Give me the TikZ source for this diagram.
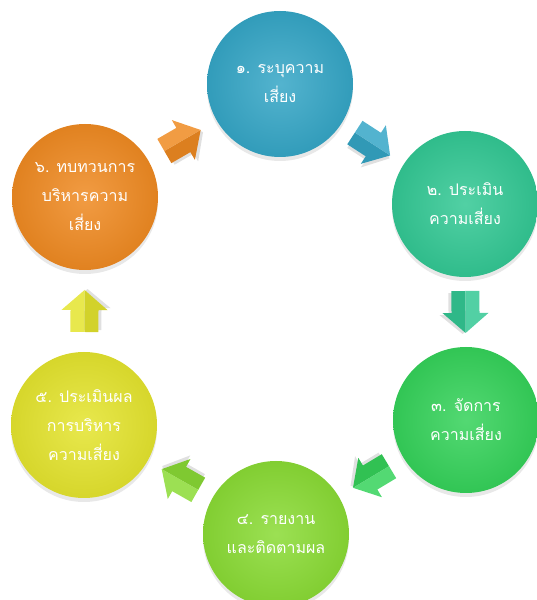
\documentclass[tikz,border=0pt]{standalone}
\usepackage{fontspec}
\newfontfamily\thaifont[Script=Thai]{Loma}
\usetikzlibrary{calc,shadows}
\definecolor{cA}{HTML}{35A6C6}
\definecolor{cB}{HTML}{33C894}
\definecolor{cC}{HTML}{35D25A}
\definecolor{cD}{HTML}{8ADB35}
\definecolor{cE}{HTML}{E4E42E}
\definecolor{cF}{HTML}{EF8A22}
\tikzset{
  stage/.style={circle, minimum size=146pt, inner sep=0pt, shade,
    inner color=#1!85!white, outer color=#1!94!black, text=white, align=center,
    font=\thaifont\fontsize{16}{29}\selectfont,
    drop shadow={shadow xshift=0pt, shadow yshift=-4pt, opacity=0.18}},
  barrow/.pic={
    \fill[black, opacity=0.12] (-19,11) -- (3,11) -- (3,20) -- (22,-3) -- (3,-26) -- (3,-17) -- (-19,-17) -- cycle;
    \fill[#1!92!black] (-21,-14) -- (1,-14) -- (1,-23) -- (21,0) -- (-21,0) -- cycle;
    \fill[#1!85!white] (-21,14) -- (1,14) -- (1,23) -- (21,0) -- (-21,0) -- cycle;
  }
}
\begin{document}
\begin{tikzpicture}[x=1pt,y=1pt]
\useasboundingbox (0,0) rectangle (536,600);
\node[stage=cA] (c1) at (280,516) {๑. ระบุความ\\เสี่ยง};
\node[stage=cB] (c2) at (465,396) {๒. ประเมิน\\ความเสี่ยง};
\node[stage=cC] (c3) at (466,180) {๓. จัดการ\\ความเสี่ยง};
\node[stage=cD] (c4) at (276,66) {๔. รายงาน\\และติดตามผล};
\node[stage=cE] (c5) at (84,175) {๕. ประเมินผล\\การบริหาร\\ความเสี่ยง};
\node[stage=cF] (c6) at (85,403) {๖. ทบทวนการ\\บริหารความ\\เสี่ยง};
\path let \p1=($(c2)-(c1)$), \n1={atan2(\y1,\x1)} in pic[rotate=\n1] at ($(c1)!0.5!(c2)$) {barrow=cA};
\path let \p1=($(c3)-(c2)$), \n1={atan2(\y1,\x1)} in pic[rotate=\n1] at ($(c2)!0.5!(c3)$) {barrow=cB};
\path let \p1=($(c4)-(c3)$), \n1={atan2(\y1,\x1)} in pic[rotate=\n1] at ($(c3)!0.5!(c4)$) {barrow=cC};
\path let \p1=($(c5)-(c4)$), \n1={atan2(\y1,\x1)} in pic[rotate=\n1] at ($(c4)!0.5!(c5)$) {barrow=cD};
\path let \p1=($(c6)-(c5)$), \n1={atan2(\y1,\x1)} in pic[rotate=\n1] at ($(c5)!0.5!(c6)$) {barrow=cE};
\path let \p1=($(c1)-(c6)$), \n1={atan2(\y1,\x1)} in pic[rotate=\n1] at ($(c6)!0.5!(c1)$) {barrow=cF};
\end{tikzpicture}
\end{document}
